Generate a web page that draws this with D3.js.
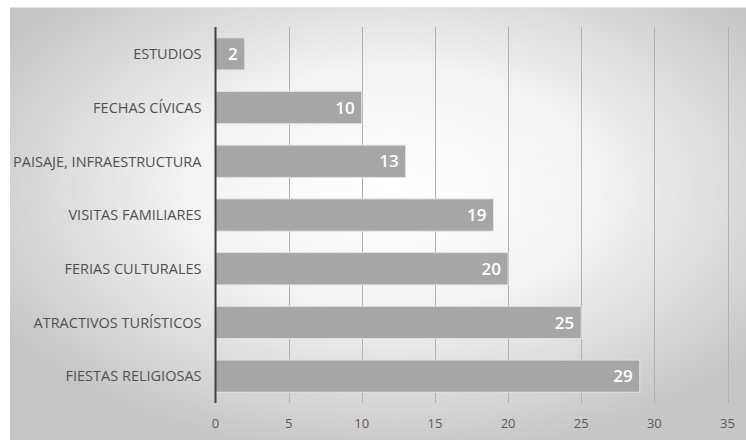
<!DOCTYPE html>
<html>
<head>
<meta charset="utf-8">
<script src="https://cdn.jsdelivr.net/npm/d3@7"></script>
<style>
  html, body { margin: 0; padding: 0; background: #fff; }
  svg { display: block; }
</style>
</head>
<body>
<svg id="chart" width="746" height="440"></svg>
<script>
// Motivos de viaje: número de respuestas por categoría
const categories = [
  "ESTUDIOS",
  "FECHAS CÍVICAS",
  "PAISAJE, INFRAESTRUCTURA",
  "VISITAS FAMILIARES",
  "FERIAS CULTURALES",
  "ATRACTIVOS TURÍSTICOS",
  "FIESTAS RELIGIOSAS"
];
const values = [2, 10, 13, 19, 20, 25, 29];
const tickValues = [0, 5, 10, 15, 20, 25, 30, 35];

const W = 746, H = 440;
const svg = d3.select("#chart");
const font = "Open Sans, Liberation Sans, sans-serif";

// Panel background with radial shading
const defs = svg.append("defs");
const rg = defs.append("radialGradient")
  .attr("id", "bg")
  .attr("cx", "52%").attr("cy", "42%").attr("r", "62%");
rg.append("stop").attr("offset", "0%").attr("stop-color", "#ffffff");
rg.append("stop").attr("offset", "45%").attr("stop-color", "#f3f3f3");
rg.append("stop").attr("offset", "100%").attr("stop-color", "#c6c6c6");

const panel = { x: 10, y: 7, w: W - 10, h: H - 7 };
svg.append("rect")
  .attr("x", panel.x).attr("y", panel.y)
  .attr("width", panel.w).attr("height", panel.h)
  .attr("fill", "url(#bg)");
svg.append("line")
  .attr("x1", panel.x).attr("x2", W)
  .attr("y1", panel.y + 0.5).attr("y2", panel.y + 0.5)
  .attr("stroke", "#e4e4e4").attr("stroke-width", 1);

const plot = { left: 215.5, right: 727.5, top: 27, bottom: 403 };

const x = d3.scaleLinear().domain([0, 35]).range([plot.left, plot.right]);
const y = d3.scaleBand().domain(categories).range([plot.top, plot.bottom]).paddingInner(0.4).paddingOuter(0.2);

// Vertical gridlines
svg.append("g")
  .selectAll("line")
  .data(tickValues.filter(d => d > 0))
  .join("line")
  .attr("x1", d => Math.round(x(d)) + 0.5)
  .attr("x2", d => Math.round(x(d)) + 0.5)
  .attr("y1", plot.top)
  .attr("y2", plot.bottom)
  .attr("stroke", "#b0b0b0")
  .attr("stroke-width", 1);

// Bars
svg.append("g")
  .selectAll("rect")
  .data(values)
  .join("rect")
  .attr("x", x(0))
  .attr("y", (d, i) => y(categories[i]))
  .attr("width", d => x(d) - x(0))
  .attr("height", y.bandwidth())
  .attr("fill", "#a6a6a6")
  .attr("stroke", "#e2e2e2")
  .attr("stroke-width", 1);

// Value labels inside bar ends
svg.append("g")
  .selectAll("text")
  .data(values)
  .join("text")
  .attr("x", d => x(d) - 7)
  .attr("y", (d, i) => y(categories[i]) + y.bandwidth() / 2)
  .attr("dy", "0.36em")
  .attr("text-anchor", "end")
  .attr("font-family", font)
  .attr("font-weight", 600)
  .attr("font-size", 17)
  .attr("fill", "#ffffff")
  .text(d => d);

// Category axis line
svg.append("line")
  .attr("x1", x(0)).attr("x2", x(0))
  .attr("y1", plot.top).attr("y2", plot.bottom)
  .attr("stroke", "#404040").attr("stroke-width", 2);

// Category labels
svg.append("g")
  .selectAll("text")
  .data(categories)
  .join("text")
  .attr("x", x(0) - 14)
  .attr("y", d => y(d) + y.bandwidth() / 2)
  .attr("dy", "0.36em")
  .attr("text-anchor", "end")
  .attr("font-family", font)
  .attr("font-size", 14.5)
  .attr("letter-spacing", "0")
  .attr("fill", "#505050")
  .text(d => d);

// Value axis tick labels
svg.append("g")
  .selectAll("text")
  .data(tickValues)
  .join("text")
  .attr("x", d => x(d))
  .attr("y", 423)
  .attr("dy", "0.36em")
  .attr("text-anchor", "middle")
  .attr("font-family", font)
  .attr("font-size", 13)
  .attr("fill", "#595959")
  .text(d => d);
</script>
</body>
</html>
